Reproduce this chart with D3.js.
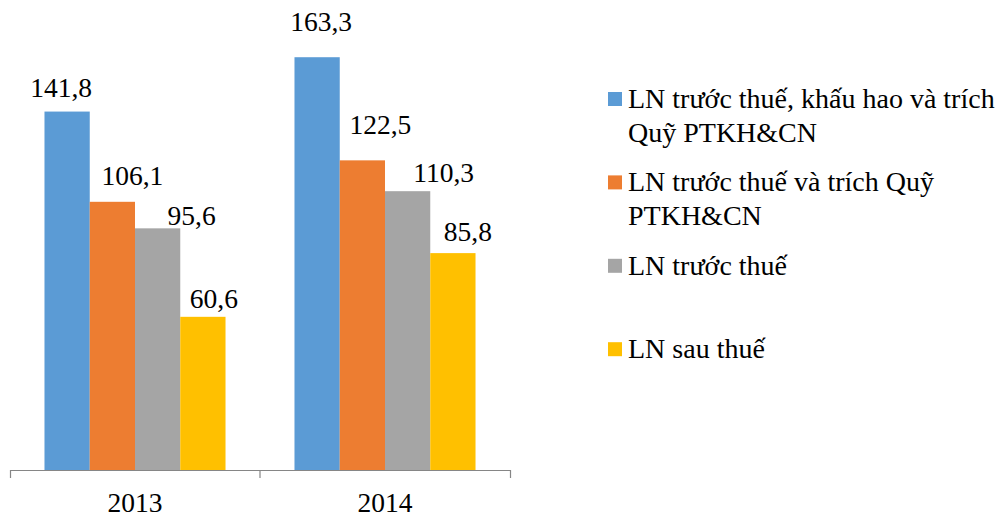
<!DOCTYPE html>
<html>
<head>
<meta charset="utf-8">
<script src="https://cdn.jsdelivr.net/npm/d3@7"></script>
<style>
  html, body { margin: 0; padding: 0; background: #fff; }
  svg { display: block; }
</style>
</head>
<body>
<svg id="chart" width="998" height="516"></svg>
<script>
// Profit figures (tỷ đồng) for the two years
const years = ["2013", "2014"];
const seriesNames = [
  "LN trước thuế, khấu hao và trích Quỹ PTKH&CN",
  "LN trước thuế và trích Quỹ PTKH&CN",
  "LN trước thuế",
  "LN sau thuế"
];
const values2013 = [141.8, 106.1, 95.6, 60.6];
const values2014 = [163.3, 122.5, 110.3, 85.8];
const seriesColors = ["#5B9BD5", "#ED7D31", "#A5A5A5", "#FFC000"];

// hand-placed label nudges (dx, dy above the bar top), per year then series
const labelNudge = [
  [[-6, -15], [20, -17], [34, -3], [11, -9]],
  [[4, -26], [18, -26], [36, -9], [15, -12]]
];

const FONT = "'Liberation Serif', 'Times New Roman', serif";
const valuesByYear = [values2013, values2014];
const fmt = v => d3.format(".1f")(v).replace(".", ",");

const svg = d3.select("#chart");

const x0 = d3.scaleBand().domain(years).range([10, 510]).padding(0);
const x1 = d3.scaleBand().domain(d3.range(seriesNames.length))
  .range([0, x0.bandwidth()]).paddingInner(0).paddingOuter(0.762);
const y = d3.scaleLinear().domain([0, 180]).range([470, 15]);

// bars
const groups = svg.selectAll("g.year").data(years).join("g")
  .attr("class", "year")
  .attr("transform", d => `translate(${x0(d)},0)`);

groups.each(function (yr, yi) {
  const g = d3.select(this);
  const vals = valuesByYear[yi];
  g.selectAll("rect").data(vals).join("rect")
    .attr("x", (d, i) => x1(i))
    .attr("width", x1.bandwidth())
    .attr("y", d => y(d))
    .attr("height", d => y(0) - y(d))
    .attr("fill", (d, i) => seriesColors[i]);

  g.selectAll("text.val").data(vals).join("text")
    .attr("class", "val")
    .attr("x", (d, i) => x1(i) + x1.bandwidth() / 2 + labelNudge[yi][i][0])
    .attr("y", (d, i) => y(d) + labelNudge[yi][i][1])
    .attr("text-anchor", "middle")
    .style("font-family", FONT)
    .style("font-size", "27.5px")
    .attr("fill", "#000")
    .text(d => fmt(d));
});

// category axis
const axis = d3.axisBottom(x0).tickSizeInner(0).tickSizeOuter(8).tickPadding(22);
const ax = svg.append("g").attr("transform", `translate(0,${y(0)})`).call(axis);
ax.select(".domain").attr("stroke", "#868686").attr("stroke-width", 1.2);
ax.selectAll(".tick text")
  .style("font-family", FONT)
  .style("font-size", "27.5px")
  .attr("fill", "#000");
// divider ticks between categories
ax.selectAll("line.div").data(years.slice(1)).join("line")
  .attr("class", "div")
  .attr("x1", d => x0(d)).attr("x2", d => x0(d))
  .attr("y1", 0).attr("y2", 8)
  .attr("stroke", "#868686").attr("stroke-width", 1.2);

// legend
const legend = svg.append("g").attr("transform", "translate(608,108)");
const wrapWidth = 372;
seriesNames.forEach((name, i) => {
  const item = legend.append("g").attr("transform", `translate(0,${i * 83.4})`);
  item.append("rect")
    .attr("x", 0).attr("y", -16).attr("width", 14).attr("height", 14)
    .attr("fill", seriesColors[i]);
  const text = item.append("text")
    .attr("x", 20).attr("y", 0)
    .style("font-family", FONT)
    .style("font-size", "28px")
    .attr("fill", "#000");
  // wrap words into lines
  const words = name.split(" ");
  let line = [];
  let tspan = text.append("tspan").attr("x", 20).attr("dy", 0);
  words.forEach(w => {
    line.push(w);
    tspan.text(line.join(" "));
    if (tspan.node().getComputedTextLength() > wrapWidth && line.length > 1) {
      line.pop();
      tspan.text(line.join(" "));
      line = [w];
      tspan = text.append("tspan").attr("x", 20).attr("dy", 33.5).text(w);
    }
  });
});
</script>
</body>
</html>
